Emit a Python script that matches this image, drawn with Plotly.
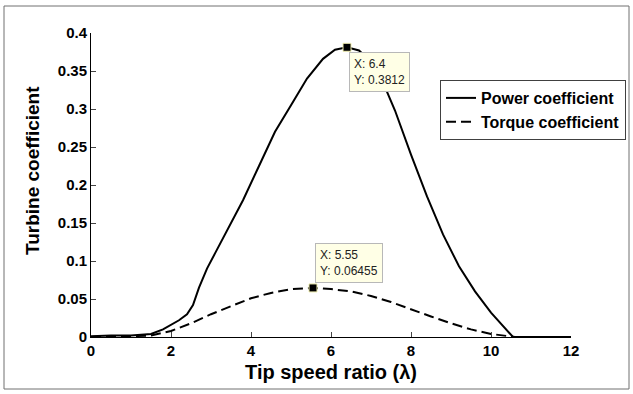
import plotly.graph_objects as go

# Power coefficient curve
power_x = [0, 0.5, 1, 1.5, 1.8, 2, 2.2, 2.4, 2.55, 2.7, 2.9, 3.1, 3.4, 3.8, 4.2, 4.6, 5, 5.4, 5.8,
           6.1, 6.4, 6.7, 7, 7.3, 7.6, 8, 8.4, 8.8, 9.2, 9.6, 10, 10.3, 10.55, 12]
power_y = [0.001, 0.002, 0.002, 0.004, 0.01, 0.016, 0.022, 0.03, 0.042, 0.065, 0.09, 0.11, 0.14,
           0.18, 0.225, 0.27, 0.305, 0.34, 0.366, 0.378, 0.3812, 0.377, 0.362, 0.335, 0.298, 0.24,
           0.185, 0.135, 0.093, 0.06, 0.032, 0.015, 0.0, 0.0]

# Torque coefficient curve
torque_x = [0, 0.5, 1, 1.5, 2, 2.5, 3, 3.5, 4, 4.5, 5, 5.55, 6, 6.5, 7, 7.5, 8, 8.5, 9, 9.5,
            10, 10.4, 10.6]
torque_y = [0.0, 0.001, 0.001, 0.002, 0.008, 0.018, 0.03, 0.04, 0.051, 0.058, 0.063, 0.06455,
            0.063, 0.06, 0.054, 0.046, 0.036, 0.027, 0.018, 0.01, 0.004, 0.001, 0.0]

# Data tips
tip_x = [6.4, 5.55]
tip_y = [0.3812, 0.06455]

x_ticks = [0, 2, 4, 6, 8, 10, 12]
y_ticks = [0, 0.05, 0.1, 0.15, 0.2, 0.25, 0.3, 0.35, 0.4]
y_tick_labels = ["0", "0.05", "0.1", "0.15", "0.2", "0.25", "0.3", "0.35", "0.4"]

FONT = "Liberation Sans, Arial, sans-serif"

fig = go.Figure()
fig.add_trace(go.Scatter(x=power_x, y=power_y, mode="lines", name="Power coefficient",
                         line=dict(color="black", width=2)))
fig.add_trace(go.Scatter(x=torque_x, y=torque_y, mode="lines", name="Torque coefficient",
                         line=dict(color="black", width=2, dash="10px,5px")))
fig.add_trace(go.Scatter(x=tip_x, y=tip_y, mode="markers", showlegend=False,
                         marker=dict(symbol="square", size=8, color="black",
                                     line=dict(color="#f0eeb0", width=1))))

# Data tip boxes
fig.add_annotation(x=tip_x[0], y=tip_y[0], xref="x", yref="y", showarrow=False,
                   text=f"X: {tip_x[0]}<br>Y: {tip_y[0]}", align="left",
                   xanchor="left", yanchor="top", xshift=2, yshift=-5,
                   bgcolor="#FFFFE6", bordercolor="#b8b8b8", borderwidth=1, borderpad=4,
                   font=dict(family=FONT, size=12, color="#222"))
fig.add_annotation(x=tip_x[1], y=tip_y[1], xref="x", yref="y", showarrow=False,
                   text=f"X: {tip_x[1]}<br>Y: {tip_y[1]}", align="left",
                   xanchor="left", yanchor="bottom", xshift=2, yshift=5,
                   bgcolor="#FFFFE6", bordercolor="#b8b8b8", borderwidth=1, borderpad=4,
                   font=dict(family=FONT, size=12, color="#222"))

# Y axis title (positioned as in the reference)
fig.add_annotation(x=(32 - 91) / 480, y=(337 - 171) / 304, xref="paper", yref="paper",
                   text="Turbine coefficient", textangle=-90, showarrow=False,
                   xanchor="center", yanchor="middle",
                   font=dict(family=FONT, size=19, weight="bold", color="black"))

# Outer frame of figure
fig.add_shape(type="rect", xref="paper", yref="paper",
              x0=(4 - 91) / 480, x1=(629 - 91) / 480,
              y0=(337 - 389) / 304, y1=(337 - 6) / 304,
              line=dict(color="#707070", width=1), fillcolor="rgba(0,0,0,0)", layer="below")

fig.update_layout(
    width=633, height=394,
    margin=dict(l=91, r=62, t=33, b=57, autoexpand=False),
    paper_bgcolor="white", plot_bgcolor="white",
    font=dict(family=FONT, color="black"),
    legend=dict(x=(440 - 91) / 480, y=(337 - 80) / 304, xanchor="left", yanchor="top",
                bgcolor="white", bordercolor="#404040", borderwidth=1,
                font=dict(family=FONT, size=16, weight="bold", color="black"),
                itemwidth=30, tracegroupgap=0),
    xaxis=dict(range=[0, 12], tickvals=x_ticks, ticks="inside", ticklen=5,
               showline=True, linecolor="black", linewidth=1, showgrid=False, zeroline=False,
               automargin=False,
               tickfont=dict(family=FONT, size=15, weight="bold"),
               title=dict(text="Tip speed ratio (λ)", standoff=6,
                          font=dict(family=FONT, size=20, weight="bold"))),
    yaxis=dict(range=[0, 0.4], tickvals=y_ticks, ticktext=y_tick_labels, ticks="inside",
               ticklen=5, showline=True, linecolor="black", linewidth=1, showgrid=False,
               zeroline=False, automargin=False,
               tickfont=dict(family=FONT, size=15, weight="bold")),
)

fig.write_html("out.html", config={"displayModeBar": False},
               post_script="document.body.style.margin='0px';")
